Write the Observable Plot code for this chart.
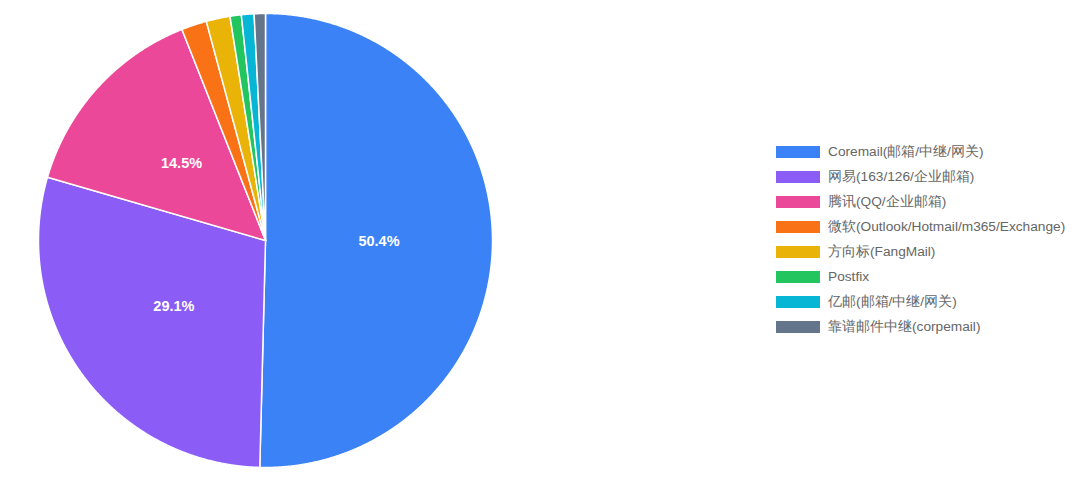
<!DOCTYPE html>
<html>
<head>
<meta charset="utf-8">
<script src="https://cdn.jsdelivr.net/npm/d3@7"></script>
<script src="https://cdn.jsdelivr.net/npm/@observablehq/plot@0.6"></script>
<style>
  html, body { margin: 0; padding: 0; background: #fff; }
  #wrap { position: relative; width: 1080px; height: 478px; font-family: "Liberation Sans", Arial, sans-serif; }
  #legend { position: absolute; left: 776px; top: 139px; }
  .row { display: flex; align-items: center; height: 25px; }
  .sw { width: 44px; height: 12px; margin-right: 8px; }
  .lb { font-size: 13.7px; color: #666; white-space: nowrap; }
</style>
</head>
<body>
<div id="wrap"><div id="chart"></div><div id="legend"></div></div>
<script>
const categories = [
  "Coremail(邮箱/中继/网关)",
  "网易(163/126/企业邮箱)",
  "腾讯(QQ/企业邮箱)",
  "微软(Outlook/Hotmail/m365/Exchange)",
  "方向标(FangMail)",
  "Postfix",
  "亿邮(邮箱/中继/网关)",
  "靠谱邮件中继(corpemail)"
];
const values = [50.4, 29.1, 14.5, 1.8, 1.7, 0.8, 0.9, 0.8];
const colors = ["#3b82f6", "#8b5cf6", "#ec4899", "#f97316", "#eab308", "#22c55e", "#06b6d4", "#64748b"];

const data = categories.map((name, i) => ({name, value: values[i]}));
const arcs = d3.pie().sort(null).value(d => d.value)(data);

// polygon outline for each slice in unit coordinates (y up)
const outline = [];
arcs.forEach(a => {
  const name = a.data.name;
  outline.push({name, x: 0, y: 0});
  const n = Math.max(2, Math.ceil((a.endAngle - a.startAngle) / (Math.PI / 720)));
  for (let k = 0; k <= n; k++) {
    const t = a.startAngle + (a.endAngle - a.startAngle) * k / n;
    outline.push({name, x: Math.sin(t), y: Math.cos(t)});
  }
  outline.push({name, x: 0, y: 0});
});

const labels = arcs.filter(a => a.data.value >= 5).map(a => {
  const m = (a.startAngle + a.endAngle) / 2;
  return {x: 0.5 * Math.sin(m), y: 0.5 * Math.cos(m), text: a.data.value.toFixed(1) + "%"};
});

const chart = Plot.plot({
  width: 1080,
  height: 478,
  marginLeft: 38,
  marginRight: 588,
  marginTop: 13,
  marginBottom: 11,
  x: {domain: [-1, 1], axis: null},
  y: {domain: [-1, 1], axis: null},
  color: {domain: categories, range: colors},
  style: {fontFamily: "'Liberation Sans', Arial, sans-serif", background: "white"},
  marks: [
    Plot.line(outline, {x: "x", y: "y", z: "name", fill: "name", stroke: "white", strokeWidth: 1.5, strokeLinejoin: "round", curve: "linear"}),
    Plot.text(labels, {x: "x", y: "y", dy: -1, text: "text", fill: "white", fontSize: 14.5, fontWeight: "bold"})
  ]
});
document.getElementById("chart").appendChild(chart);

const legend = document.getElementById("legend");
categories.forEach((c, i) => {
  const row = document.createElement("div");
  row.className = "row";
  row.innerHTML = `<div class="sw" style="background:${colors[i]}"></div><div class="lb"></div>`;
  row.querySelector(".lb").textContent = c;
  legend.appendChild(row);
});
</script>
</body>
</html>
